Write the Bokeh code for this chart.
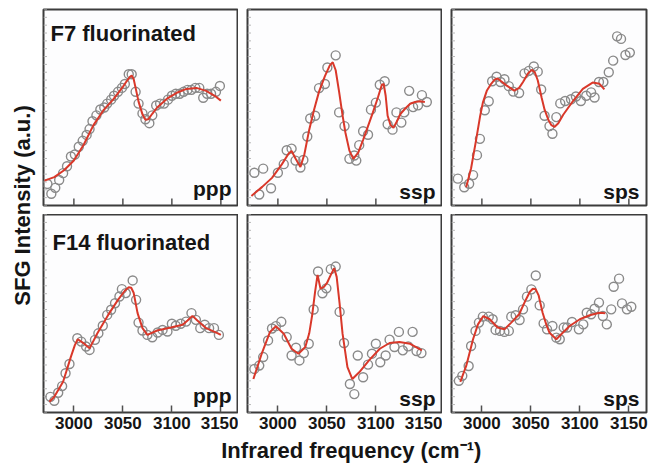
from math import pi
from bokeh.plotting import figure
from bokeh.layouts import row, column
from bokeh.models import Range1d, FixedTicker, Label
from bokeh.embed import file_html
from bokeh.resources import INLINE

# ---------------- data ----------------
x_ticks = [3000, 3050, 3100, 3150]
y_marks = [0, 4, 8, 12, 16, 20, 24, 28, 32, 36, 40, 44, 48, 52, 56, 60, 64, 68, 72, 76, 80, 84, 88, 92, 96, 100]
x_lo, x_hi = 2969, 3168
y_lo, y_hi = 0, 100

samples = ["F7 fluorinated", "F14 fluorinated"]
polarizations = ["ppp", "ssp", "sps"]

# F7 ppp
f7_ppp_x = [2973, 2977, 2981, 2985, 2989, 2993, 2997, 3001, 3005, 3009, 3013, 3016, 3019, 3023,
            3027, 3031, 3034, 3038, 3041, 3045, 3049, 3052, 3056, 3059, 3063, 3066, 3070, 3073,
            3077, 3080, 3084, 3088, 3092, 3096, 3100, 3104, 3108, 3112, 3116, 3120, 3124, 3128,
            3132, 3136, 3140, 3145, 3149]
f7_ppp_y = [11, 6, 9, 13, 16.5, 20, 25, 26, 30, 33, 36, 39, 43, 46,
            49, 50, 52, 54, 56, 58, 60, 62, 67, 67, 58, 52, 47, 44,
            42, 46, 51, 52, 52, 54, 56, 57, 57, 58, 59, 59, 60, 60,
            55, 57, 57, 58, 61]
f7_ppp_fit_x = [2970, 2980, 2990, 3000, 3010, 3020, 3030, 3040, 3050, 3054, 3057, 3059, 3061,
                3063, 3066, 3070, 3073, 3076, 3080, 3085, 3095, 3105, 3115, 3125, 3135, 3145, 3150]
f7_ppp_fit_y = [12.7, 14.5, 18, 23, 31, 41, 48.5, 54, 60.5, 63.5, 65.5, 66.3, 64.5,
                60, 53, 46.5, 43.8, 44, 46.8, 50, 54.5, 57.5, 59.5, 60, 58.5, 55.5, 53.5]

# F7 ssp
f7_ssp_x = [2976, 2981, 2985, 2993, 3000, 3006, 3009, 3014, 3018, 3023, 3026, 3030, 3033, 3038,
            3042, 3048, 3050.5, 3059, 3062.5, 3068, 3073, 3078, 3080, 3083, 3087, 3092, 3095,
            3100, 3104, 3109, 3112, 3117, 3121, 3126, 3129, 3134, 3138, 3143, 3147, 3152]
f7_ssp_y = [16.7, 5.6, 18.8, 8.8, 16.7, 21.1, 28.2, 29.0, 22.9, 19.4, 23.2, 35.2, 44.4, 45.8,
            59.9, 62.0, 70.4, 76.6, 47.5, 40.5, 23.8, 25.5, 22.9, 30.8, 37.9, 36.1, 48.9,
            52.5, 61.6, 63.4, 41.4, 38.7, 47.5, 42.3, 47.5, 58.5, 50.2, 51.1, 56.3, 52.8]
f7_ssp_fit_x = [2973, 2984, 2994, 3004, 3011, 3014, 3018, 3023, 3027, 3032, 3037, 3042, 3048,
                3053, 3056, 3059, 3062.5, 3066, 3069, 3073, 3077, 3082, 3087, 3092, 3097, 3102,
                3106, 3108, 3110, 3112, 3115, 3118, 3121, 3125, 3130, 3135, 3140, 3145, 3150]
f7_ssp_fit_y = [4.9, 9.5, 14.1, 21, 26.5, 27.8, 24, 19.7, 26, 38.7, 49, 58.1, 66,
                71.5, 73.1, 69, 58, 46, 37, 28, 23.8, 27, 33.5, 40.5, 47.5, 55,
                61.5, 62, 56, 45.8, 41, 39.6, 42.5, 46.7, 49.5, 51.9, 52.8, 53.2, 52.8]

# F7 sps
f7_sps_x = [2975.5, 2982, 2987, 2991, 2995, 2998, 3003, 3007, 3010.5, 3015, 3019, 3023, 3027.5,
            3032, 3038, 3043.5, 3048, 3053, 3057, 3060.5, 3064, 3069, 3072, 3076, 3080, 3085,
            3091, 3096, 3101, 3106.5, 3111.5, 3115, 3119.5, 3124, 3129.5, 3134, 3138, 3142,
            3146.5, 3151]
f7_sps_y = [13.7, 9.3, 11.1, 15.5, 25.7, 34, 48.6, 53.2, 63.4, 65.7, 63.0, 64.4, 60.9,
            58.1, 57.4, 67.4, 68.7, 70.9, 68.3, 59.2, 45.8, 40.5, 36.6, 45.1, 52.1, 53.3,
            54.2, 55.6, 53.3, 56, 57.7, 55.1, 63, 63, 68, 73.9, 86.3, 85,
            76.8, 78]
f7_sps_fit_x = [2984, 2989, 2994, 2998, 3001, 3005, 3009.5, 3013, 3016, 3020, 3025, 3033, 3038,
                3042, 3047, 3051, 3054, 3057, 3061, 3064, 3068, 3071, 3074, 3078, 3083, 3093,
                3103, 3113, 3120, 3125]
f7_sps_fit_y = [9.3, 19, 33.1, 45, 52.5, 58.5, 62.1, 64.2, 64.8, 63.3, 61.3, 58.6, 60,
                63, 67.3, 69.2, 68, 63.9, 55, 48.9, 43.5, 41, 40.1, 42, 46.3, 53.3,
                59.5, 62.7, 62.1, 59.2]

# F14 ppp
f14_ppp_x = [2976, 2980, 2984, 2988, 2991.5, 2995.5, 3003.5, 3007.5, 3012.5, 3016, 3021.5, 3025,
             3029.5, 3034, 3038, 3042, 3046.5, 3049, 3053, 3060, 3063.5, 3066, 3070, 3075,
             3080, 3085.5, 3090.5, 3095.5, 3100, 3104, 3109, 3114.5, 3120, 3124.5, 3129,
             3133.5, 3138, 3143, 3148]
f14_ppp_y = [7.9, 5.9, 10, 13.3, 19.8, 24.5, 37.5, 35.8, 33.3, 31.6, 36.7, 40,
             43.8, 49.3, 51.9, 55.2, 58.6, 62.3, 60.3, 66.7, 56.9, 45.4, 41.4, 39.2,
             38, 40.4, 41.7, 40.9, 44.8, 43.8, 44.8, 45.9, 50.2, 46.8, 42.6,
             44.3, 42.6, 42.6, 39.2]
f14_ppp_fit_x = [2975, 2980, 2989, 2997, 3001, 3004, 3009, 3016, 3024, 3035, 3045, 3052, 3056,
                 3058.5, 3061, 3065, 3070, 3075, 3085, 3099, 3111, 3116, 3121, 3126, 3135,
                 3147, 3150]
f14_ppp_fit_y = [5.4, 7.9, 15.5, 28.2, 34, 37, 35.3, 32.4, 40, 49.3, 56.9, 61.5, 63.3,
                 63, 60.5, 50.2, 42.6, 39.2, 41.4, 42.9, 44.3, 46.5, 48.8, 46.5, 42.6,
                 40, 39.2]

# F14 ssp
f14_ssp_x = [2976, 2981, 2985, 2990, 2994, 2998, 3003.5, 3009, 3014, 3018.5, 3022, 3026.5,
             3031.5, 3036.5, 3041, 3045.5, 3049.5, 3054, 3059, 3063, 3067.5, 3073.5, 3078,
             3081.5, 3087, 3092, 3096, 3100, 3104.5, 3110, 3114, 3119, 3123.5, 3127.5, 3133,
             3137.5, 3141.5, 3146.5]
f14_ssp_y = [22, 23.7, 28, 36.4, 42.4, 43.6, 45.8, 38.1, 28.8, 32.7, 26.3, 30,
             34.7, 52, 71.2, 60.2, 62.7, 72.4, 73.7, 50.8, 35.1, 14.4, 9.3,
             28.8, 17.8, 24.2, 29.7, 34.7, 25.4, 28.8, 36.8, 33.1, 40.7, 31.4, 33.4,
             40.7, 31, 30]
f14_ssp_fit_x = [2975, 2983.5, 2992, 2998, 3006, 3014, 3021, 3028, 3032, 3035, 3038, 3040.5,
                 3043.5, 3047, 3050, 3054, 3057.5, 3060, 3063, 3066, 3071, 3076, 3083, 3093,
                 3104, 3114, 3124, 3135, 3147]
f14_ssp_fit_y = [16.9, 29.7, 40.7, 43.6, 39.8, 32.2, 29.7, 33.1, 40, 49.2, 61, 69.5,
                 62.5, 63.5, 65.3, 69.5, 72.9, 68.5, 55, 39.8, 22.9, 16.9, 20.3, 26.3,
                 32.2, 35.1, 35.6, 34.7, 31.4]

# F14 sps
f14_sps_x = [2976.5, 2980, 2986.5, 2989, 2993.5, 2997, 3001, 3007, 3011, 3014, 3018.5, 3023,
             3027.5, 3030, 3034.5, 3038.5, 3042, 3046, 3050.5, 3055, 3059, 3063, 3066.5,
             3072, 3076, 3079.5, 3083.5, 3087, 3092, 3099, 3103.5, 3107, 3111.5, 3115, 3119.5,
             3123.5, 3127.5, 3132, 3134.5, 3140, 3143, 3148, 3152.5]
f14_sps_y = [16, 18.5, 23.5, 33.6, 41.2, 45.4, 48.4, 48.4, 47.1, 41.7, 41.2, 40.7,
             41.2, 48.4, 49.1, 46.7, 52.1, 58.5, 62.2, 69.2, 54.1, 45, 42,
             43.7, 37.8, 37, 42.9, 42.9, 45.7, 42, 44.5, 50.4, 49.6, 52.4, 55.5,
             48.7, 44.5, 52.1, 63.5, 67.6, 55.1, 52.1, 53.4]
f14_sps_fit_x = [2978, 2984, 2991, 2996, 3001.5, 3008, 3016, 3023, 3030, 3038, 3045, 3049,
                 3052, 3055, 3058, 3062, 3066, 3069, 3076, 3081, 3089.5, 3100, 3110, 3120, 3126]
f14_sps_fit_y = [15.5, 23.5, 37, 44.5, 48.7, 47.1, 42.9, 42, 45.4, 49.6, 57.1, 61,
                 62.5, 62.2, 59, 50.4, 44, 40.3, 37, 39.5, 43.7, 47.1, 49.1, 50.4, 50.1]

# ---------------- style ----------------
FONT = "Liberation Sans"
RED = "#d9382a"
GRAY = "#8a8a8a"
FRAME = "#3c3c3c"
TXT = "#151515"
FW = 195


def make_panel(px, py, fx, fy, pol, title, bottom, ml, mr):
    fh = 198 if bottom else 196
    p = figure(frame_width=FW, frame_height=fh,
               x_range=Range1d(x_lo, x_hi), y_range=Range1d(y_lo, y_hi),
               toolbar_location=None, output_backend="svg",
               x_axis_location="below" if bottom else None, y_axis_location=None,
               min_border_left=ml, min_border_right=mr,
               min_border_top=0 if bottom else 9,
               min_border_bottom=26 if bottom else 9,
               background_fill_color="#fdfdfe", border_fill_color="white",
               outline_line_color=FRAME, outline_line_width=2)
    p.grid.visible = False
    xpp = (x_hi - x_lo) / FW
    ypp = (y_hi - y_lo) / fh

    # faint inward ticks along the left edge
    p.segment(x0=[x_lo] * len(y_marks), y0=y_marks, x1=[x_lo + 3.5 * xpp] * len(y_marks), y1=y_marks,
              line_color="#b8b8b8", line_width=1)

    if bottom:
        xa = p.xaxis[0]
        xa.ticker = FixedTicker(ticks=x_ticks)
        xa.axis_line_color = None
        xa.major_tick_in = 7
        xa.major_tick_out = 0
        xa.major_tick_line_color = "#505050"
        xa.major_tick_line_width = 1.5
        xa.minor_tick_line_color = None
        xa.major_label_text_font = FONT
        xa.major_label_text_font_size = "17px"
        xa.major_label_text_font_style = "bold"
        xa.major_label_text_color = TXT
        xa.major_label_standoff = 4
    else:
        p.segment(x0=x_ticks, y0=[y_lo] * len(x_ticks), x1=x_ticks,
                  y1=[y_lo + 7 * ypp] * len(x_ticks),
                  line_color="#505050", line_width=1.5)

    p.scatter(px, py, marker="circle", size=9, fill_color=None,
              line_color=GRAY, line_width=1.4)
    p.line(fx, fy, line_color=RED, line_width=2)

    if title:
        off_x = 9 if bottom else 7
        off_y = 28 if bottom else 24
        p.add_layout(Label(x=x_lo + off_x * xpp, y=y_hi - off_y * ypp, text=title,
                           text_font=FONT, text_font_size="22px", text_font_style="bold",
                           text_color=TXT, text_align="left", text_baseline="alphabetic"))
    up = 17 if pol == "ppp" else 14
    p.add_layout(Label(x=x_hi - 7 * xpp, y=y_lo + up * ypp, text=pol,
                       text_font=FONT, text_font_size="21px", text_font_style="bold",
                       text_color=TXT, text_align="right", text_baseline="alphabetic"))
    return p


f1 = make_panel(f7_ppp_x, f7_ppp_y, f7_ppp_fit_x, f7_ppp_fit_y, polarizations[0], samples[0], False, 5, 0)
f2 = make_panel(f7_ssp_x, f7_ssp_y, f7_ssp_fit_x, f7_ssp_fit_y, polarizations[1], None, False, 9, 0)
f3 = make_panel(f7_sps_x, f7_sps_y, f7_sps_fit_x, f7_sps_fit_y, polarizations[2], None, False, 9, 6)
f4 = make_panel(f14_ppp_x, f14_ppp_y, f14_ppp_fit_x, f14_ppp_fit_y, polarizations[0], samples[1], True, 5, 0)
f5 = make_panel(f14_ssp_x, f14_ssp_y, f14_ssp_fit_x, f14_ssp_fit_y, polarizations[1], None, True, 9, 0)
f6 = make_panel(f14_sps_x, f14_sps_y, f14_sps_fit_x, f14_sps_fit_y, polarizations[2], None, True, 9, 6)


def blank(w, h):
    b = figure(width=w, height=h, x_range=Range1d(0, 1), y_range=Range1d(0, 1),
               toolbar_location=None, output_backend="svg", min_border=0,
               x_axis_location=None, y_axis_location=None,
               outline_line_color=None, background_fill_color="white",
               border_fill_color="white")
    b.grid.visible = False
    return b


ylab = blank(38, 438)
ylab.add_layout(Label(x=0.58, y=0.532, text="SFG Intensity (a.u.)", angle=pi / 2,
                      text_font=FONT, text_font_size="22px", text_font_style="bold",
                      text_color=TXT, text_align="center", text_baseline="middle"))

xlab = blank(652, 28)
xlab.add_layout(Label(x=0.538, y=0.56, text="Infrared frequency (cm\u207b\u00b9)",
                      text_font=FONT, text_font_size="22px", text_font_style="bold",
                      text_color=TXT, text_align="center", text_baseline="middle"))

layout = column(row(ylab, column(row(f1, f2, f3), row(f4, f5, f6))), xlab)

open("out.html", "w").write(file_html(layout, INLINE))
